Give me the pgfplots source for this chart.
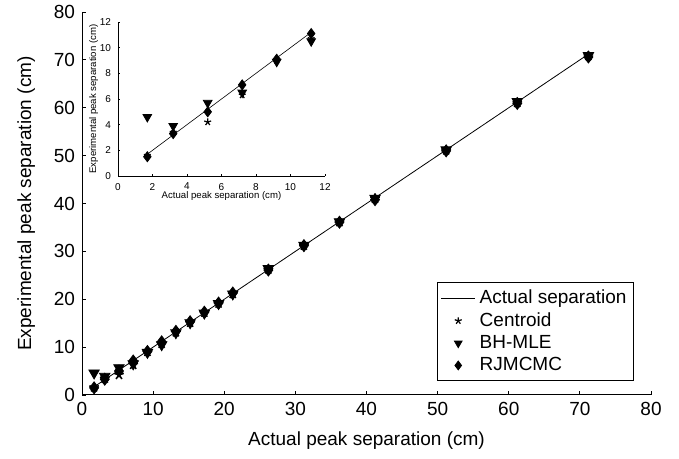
\documentclass[border=0pt]{standalone}
\usepackage{pgfplots}
\pgfplotsset{compat=1.18}
\usepackage{fontspec}
\setmainfont{Liberation Sans}
\pgfplotstableread{
x c b r
1.7 1.6 4.6 1.5
3.2 3.4 3.9 3.3
5.2 4.2 5.7 5.0
7.2 6.3 6.5 7.1
9.2 9.0 8.9 9.1
11.2 10.7 10.5 11.1
13.2 13.1 13.0 13.3
15.2 15.1 15.1 15.3
17.2 17.2 17.1 17.3
19.2 19.1 19.1 19.2
21.2 21.1 21.1 21.3
26.2 26.2 26.4 26.1
31.2 31.2 31.3 31.2
36.2 36.1 36.2 36.1
41.2 41.0 41.1 40.8
51.2 51.1 51.2 51.0
61.2 61.0 61.3 60.9
71.2 70.8 70.9 70.6
}\datatab
\pgfplotstableread{
x c b r
1.7 1.6 4.6 1.5
3.2 3.4 3.9 3.3
5.2 4.2 5.7 5.0
7.2 6.3 6.5 7.1
9.2 9.0 8.9 9.1
11.2 10.7 10.5 11.1
}\insettab
\begin{document}
\begin{tikzpicture}
\useasboundingbox (0,0) rectangle (339.5pt,229.5pt);
\begin{axis}[
  at={(41pt,32pt)}, anchor=south west,
  scale only axis, width=284.5pt, height=191.5pt,
  xmin=0, xmax=80, ymin=0, ymax=80,
  xtick={0,10,...,80}, ytick={0,10,...,80},
  axis x line*=bottom, axis y line*=left,
  tick align=inside, major tick length=2pt,
  axis line style={black, line width=0.5pt},
  tick style={black, line width=0.4pt},
  /pgf/number format/assume math mode=true,
  tick label style={font=\fontsize{9.5}{11}\selectfont},
  label style={font=\fontsize{9.5}{11}\selectfont},
  xlabel={Actual peak separation (cm)},
  ylabel={Experimental peak separation (cm)},
  ylabel style={yshift=2.5pt},
  xlabel style={yshift=-1pt},
  legend style={at={(0.970,0.0366)}, anchor=south east, draw=black, line width=0.4pt,
    font=\fontsize{9.5}{11}\selectfont, row sep=-1pt, inner sep=1.5pt},
  legend cell align=left,
  clip=false,
]
\addplot[black, line width=0.4pt, no marks] coordinates {(1.7,1.7) (71.2,71.2)};
\addlegendentry{Actual separation}
\addplot[only marks, mark=star, mark size=2.5pt, mark options={black, line width=0.8pt}] table[x=x,y=c] {\datatab};
\addlegendentry{Centroid}
\addplot[only marks, mark=triangle*, mark size=3.0pt, mark options={black, fill=black, rotate=180}] table[x=x,y=b] {\datatab};
\addlegendentry{BH-MLE}
\addplot[only marks, mark=diamond*, mark size=3.0pt, mark options={black, fill=black}] table[x=x,y=r] {\datatab};
\addlegendentry{RJMCMC}
\legend{}
\end{axis}
\begin{axis}[
  at={(41pt,32pt)}, anchor=south west,
  scale only axis, width=284.5pt, height=191.5pt,
  xmin=0, xmax=80, ymin=0, ymax=80,
  hide axis,
  legend style={at={(0.970,0.0366)}, anchor=south east, draw=black, line width=0.4pt,
    font=\fontsize{9.5}{11}\selectfont, row sep=-1pt, inner sep=1.5pt},
  legend cell align=left,
]
\addlegendimage{black, line width=0.4pt, no marks}
\addlegendentry{Actual separation}
\addlegendimage{only marks, mark=star, mark size=1.8pt, mark options={black, line width=0.6pt}}
\addlegendentry{Centroid}
\addlegendimage{only marks, mark=triangle*, mark size=2.2pt, mark options={black, fill=black, rotate=180}}
\addlegendentry{BH-MLE}
\addlegendimage{only marks, mark=diamond*, mark size=2.2pt, mark options={black, fill=black}}
\addlegendentry{RJMCMC}
\end{axis}
\begin{axis}[
  at={(59pt,141.5pt)}, anchor=south west,
  scale only axis, width=103.5pt, height=77pt,
  xmin=0, xmax=12, ymin=0, ymax=12,
  xtick={0,2,...,12}, ytick={0,2,...,12},
  axis x line*=bottom, axis y line*=left,
  tick align=inside, major tick length=1.2pt,
  axis line style={black, line width=0.4pt},
  tick style={black, line width=0.3pt},
  /pgf/number format/assume math mode=true,
  tick label style={font=\fontsize{5}{5.5}\selectfont},
  label style={font=\fontsize{4.8}{5.2}\selectfont},
  xlabel={Actual peak separation (cm)},
  ylabel={Experimental peak separation (cm)},
  xlabel style={yshift=6pt},
  ylabel style={yshift=-6pt},
  clip=false,
]
\addplot[black, line width=0.3pt, no marks] coordinates {(1.7,1.7) (11.2,11.2)};
\addplot[only marks, mark=star, mark size=1.8pt, mark options={black, line width=0.6pt}] table[x=x,y=c] {\insettab};
\addplot[only marks, mark=triangle*, mark size=2.5pt, mark options={black, fill=black, rotate=180}] table[x=x,y=b] {\insettab};
\addplot[only marks, mark=diamond*, mark size=2.5pt, mark options={black, fill=black}] table[x=x,y=r] {\insettab};
\end{axis}
\end{tikzpicture}
\end{document}
